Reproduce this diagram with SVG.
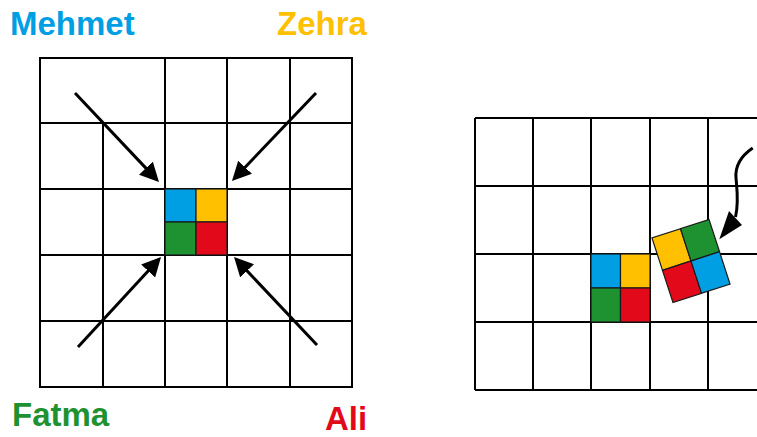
<svg xmlns="http://www.w3.org/2000/svg" width="757" height="437" viewBox="0 0 757 437">
<style>
.grid{stroke:#000;stroke-width:2;fill:none}
.lbl{font-family:"Liberation Sans",Arial,sans-serif;font-weight:bold;font-size:33px}
.arr{stroke:#000;stroke-width:3;fill:none}
.q{stroke:#1a1a1a;stroke-width:1.2}
.b{fill:#009FE3}.y{fill:#FFC000}.g{fill:#1E9130}.r{fill:#E20A1A}
</style>
<defs>
<marker id="ah" markerUnits="userSpaceOnUse" markerWidth="22" markerHeight="20" refX="2" refY="9.5" orient="auto">
<path d="M0,0 L19,9.5 L0,19 z" fill="#000"/>
</marker>
</defs>
<rect width="757" height="437" fill="#fff"/>
<g id="left-grid" class="grid">
<rect x="40" y="58" width="312" height="329"/>
<line x1="103" y1="123" x2="103" y2="387"/>
<line x1="165" y1="58" x2="165" y2="387"/>
<line x1="227" y1="58" x2="227" y2="387"/>
<line x1="290" y1="58" x2="290" y2="387"/>
<line x1="40" y1="123" x2="352" y2="123"/>
<line x1="40" y1="189" x2="352" y2="189"/>
<line x1="40" y1="255" x2="352" y2="255"/>
<line x1="40" y1="321" x2="352" y2="321"/>
</g>
<g id="left-block">
<rect class="q b" x="165" y="189" width="31" height="33"/>
<rect class="q y" x="196" y="189" width="31" height="33"/>
<rect class="q g" x="165" y="222" width="31" height="33"/>
<rect class="q r" x="196" y="222" width="31" height="33"/>
</g>
<g id="right-grid" class="grid">
<line x1="475" y1="118" x2="757" y2="118"/>
<line x1="475" y1="186" x2="757" y2="186"/>
<line x1="475" y1="254" x2="757" y2="254"/>
<line x1="475" y1="322" x2="757" y2="322"/>
<line x1="475" y1="390" x2="757" y2="390"/>
<line x1="475" y1="118" x2="475" y2="390"/>
<line x1="533" y1="118" x2="533" y2="390"/>
<line x1="591" y1="118" x2="591" y2="390"/>
<line x1="650" y1="118" x2="650" y2="390"/>
<line x1="708" y1="118" x2="708" y2="390"/>
</g>
<g id="right-block">
<rect class="q b" x="591" y="254" width="29.5" height="34"/>
<rect class="q y" x="620.5" y="254" width="29.5" height="34"/>
<rect class="q g" x="591" y="288" width="29.5" height="34"/>
<rect class="q r" x="620.5" y="288" width="29.5" height="34"/>
</g>
<g id="rotated-block" transform="translate(691,261) rotate(-18)">
<rect class="q y" x="-30" y="-34" width="30" height="34"/>
<rect class="q g" x="0" y="-34" width="30" height="34"/>
<rect class="q r" x="-30" y="0" width="30" height="34"/>
<rect class="q b" x="0" y="0" width="30" height="34"/>
</g>
<g id="connectors">
<line class="arr" x1="75" y1="93" x2="147.3" y2="169.6" marker-end="url(#ah)"/>
<line class="arr" x1="316" y1="93" x2="243.7" y2="168.7" marker-end="url(#ah)"/>
<line class="arr" x1="78" y1="347" x2="149.5" y2="269.5" marker-end="url(#ah)"/>
<line class="arr" x1="317" y1="345" x2="245.7" y2="269.4" marker-end="url(#ah)"/>
<path class="arr" d="M752.7,148 C741,156 735,166 736,178 C737,190 739,202 735.5,217"/>
<polygon points="729,211 742,225 719.3,239.3" fill="#000"/>
</g>
<g id="labels" class="lbl">
<text x="10" y="35" fill="#009FE3">Mehmet</text>
<text x="277" y="35" fill="#FFC000">Zehra</text>
<text x="12" y="426" fill="#1E9130">Fatma</text>
<text x="325" y="430" fill="#E20A1A">Ali</text>
</g>
</svg>
